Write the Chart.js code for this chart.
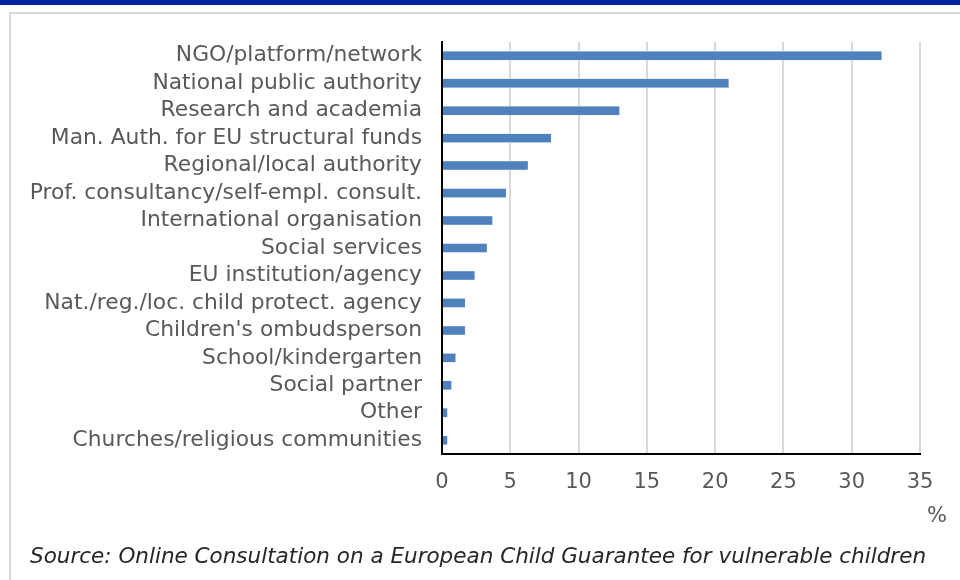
<!DOCTYPE html>
<html>
<head>
<meta charset="utf-8">
<script src="https://cdn.jsdelivr.net/npm/chart.js"></script>
<style>
  html, body { margin: 0; padding: 0; background: #fff; }
  body { width: 960px; height: 580px; position: relative; overflow: hidden; font-family: "DejaVu Sans", Verdana, sans-serif; }
  #band { position: absolute; left: 0; top: 0; width: 960px; height: 5px; background: #00239c; }
  #frame { position: absolute; left: 9px; top: 12px; width: 1000px; height: 600px; border-top: 2px solid #d9d9d9; border-left: 2px solid #d9d9d9; }
  #wrap { position: absolute; left: 0; top: 0; width: 960px; height: 580px; }
  #unit { position: absolute; left: 927px; top: 503px; font-size: 21px; color: #595959; }
  #source { position: absolute; left: 30px; top: 543px; font-size: 21.5px; font-style: italic; color: #262626; white-space: nowrap; }
</style>
</head>
<body>
<div id="band"></div>
<div id="frame"></div>
<div id="wrap"><canvas id="chart" width="960" height="580"></canvas></div>
<div id="unit">%</div>
<div id="source">Source: Online Consultation on a European Child Guarantee for vulnerable children</div>
<script>
// respondents by type of organisation, in %
const categories = [
  'NGO/platform/network',
  'National public authority',
  'Research and academia',
  'Man. Auth. for EU structural funds',
  'Regional/local authority',
  'Prof. consultancy/self-empl. consult.',
  'International organisation',
  'Social services',
  'EU institution/agency',
  'Nat./reg./loc. child protect. agency',
  "Children's ombudsperson",
  'School/kindergarten',
  'Social partner',
  'Other',
  'Churches/religious communities'
];
const shares = [32.2, 21.0, 13.0, 8.0, 6.3, 4.7, 3.7, 3.3, 2.4, 1.7, 1.7, 1.0, 0.7, 0.4, 0.4];
const xTicks = [0, 5, 10, 15, 20, 25, 30, 35];

const gray = '#595959';

new Chart(document.getElementById('chart'), {
  type: 'bar',
  data: {
    labels: categories,
    datasets: [{
      data: shares,
      backgroundColor: '#4f81bd',
      borderColor: '#dbe5f1',
      borderWidth: 0.6,
      barThickness: 9
    }]
  },
  options: {
    indexAxis: 'y',
    responsive: false,
    animation: false,
    layout: { padding: { left: 0, right: 40, top: 42, bottom: 0 } },
    plugins: { legend: { display: false }, tooltip: { enabled: false } },
    scales: {
      x: {
        min: xTicks[0],
        max: xTicks[xTicks.length - 1],
        afterBuildTicks: s => { s.ticks = xTicks.map(v => ({ value: v })); },
        afterFit: s => { s.height = 126; },
        grid: { color: '#d9d9d9', lineWidth: 2, drawTicks: false },
        border: { color: '#000', width: 2 },
        ticks: { color: gray, padding: 16, font: { family: 'DejaVu Sans', size: 21 } }
      },
      y: {
        afterFit: s => { s.width = 442; },
        grid: { display: false, drawTicks: false },
        border: { color: '#000', width: 2 },
        ticks: { color: gray, padding: 20, autoSkip: false, font: { family: 'DejaVu Sans', size: 21.8 } }
      }
    }
  }
});
</script>
</body>
</html>
